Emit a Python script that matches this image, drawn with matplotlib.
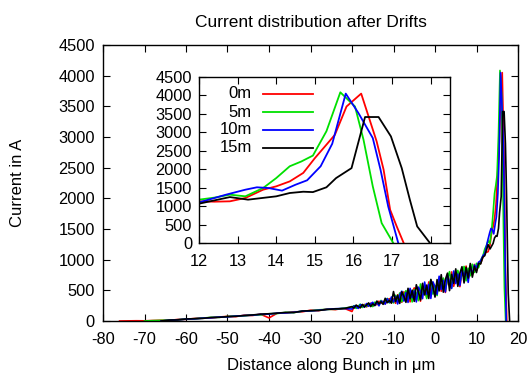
import numpy as np
import matplotlib
matplotlib.use("Agg")
import matplotlib.pyplot as plt
from matplotlib.lines import Line2D

plt.rcParams['font.family'] = ['Liberation Sans', 'DejaVu Sans']
plt.rcParams['axes.unicode_minus'] = False

labels = ["0m", "5m", "10m", "15m"]
colors = ["#ff0000", "#00e000", "#0000ff", "#000000"]

# far tail (step 2 um)
x_far = [-76, -74, -72, -70, -68, -66, -64, -62, -60, -58, -56, -54, -52, -50,
         -48, -46, -44, -42, -40, -38, -36, -34, -32, -30, -28, -26, -24, -22]
nan = np.nan
far_0m = [0, 2, 4, 3, 8, 12, 10, 25, 28, 40, 50, 48, 65, 75, 72, 92, 90, 110, 50, 128,
          130, 150, 150, 175, 170, 195, 185, 210]
far_5m = [nan, nan, nan, 0, 6, 10, 14, 20, 32, 36, 48, 58, 60, 72, 82, 84, 98, 100, 118, 122,
          140, 138, 160, 165, 182, 190, 192, 210]
far_10m = [nan, nan, nan, nan, nan, 0, 12, 20, 30, 35, 46, 52, 64, 68, 80, 88, 95, 108, 112, 128,
           132, 142, 160, 165, 175, 190, 200, 205]
far_15m = [nan, nan, nan, nan, nan, 0, 15, 18, 32, 38, 42, 58, 60, 72, 76, 90, 98, 112, 118, 128,
           140, 138, 162, 168, 172, 188, 198, 200]

# noisy middle section (step 0.5 um, -20 .. 11.5)
x_mid = list(np.arange(-20, 12, 0.5))
mid_0m = [155, 235, 220, 250, 220, 250, 270, 230, 260, 290,
          240, 282, 265, 323, 290, 322, 280, 333, 365, 297,
          360, 289, 428, 377, 306, 475, 354, 463, 312, 461,
          540, 351, 512, 323, 554, 505, 386, 637, 458, 599,
          410, 595, 680, 485, 650, 465, 720, 605, 800, 565,
          720, 805, 560, 805, 710, 895, 690, 848, 745, 922,
          820, 920, 940, 1030]
mid_5m = [225, 250, 205, 240, 275, 220, 260, 240, 280, 265,
          235, 307, 290, 263, 335, 282, 325, 368, 295, 352,
          295, 419, 338, 457, 316, 425, 494, 333, 472, 311,
          510, 451, 332, 603, 424, 575, 366, 567, 668, 439,
          580, 415, 700, 565, 700, 505, 690, 805, 540, 745,
          640, 825, 630, 775, 890, 655, 860, 738, 925, 792,
          940, 870, 990, 1050]
mid_10m = [195, 245, 235, 205, 265, 255, 225, 285, 240, 280,
           305, 252, 305, 248, 325, 312, 275, 363, 305, 392,
           310, 399, 278, 427, 486, 325, 464, 303, 532, 381,
           490, 311, 552, 483, 364, 635, 436, 597, 368, 639,
           560, 435, 730, 515, 660, 475, 750, 635, 530, 815,
           610, 765, 580, 855, 720, 855, 630, 898, 765, 912,
           870, 960, 980, 1060]
mid_15m = [235, 210, 260, 235, 215, 270, 230, 260, 295, 235,
           280, 252, 325, 278, 315, 272, 370, 298, 335, 292,
           480, 319, 418, 287, 476, 405, 304, 533, 362, 501,
           320, 591, 472, 343, 614, 425, 586, 367, 678, 559,
           390, 675, 490, 755, 470, 675, 780, 495, 760, 615,
           850, 565, 780, 885, 620, 875, 700, 938, 715, 892,
           790, 940, 930, 1040]

# peak region (as in inset)
pk_x_0m = [12, 12.4, 12.8, 13.2, 13.66, 14.0, 14.35, 14.7, 15.0, 15.3, 15.52, 15.82, 16.2,
           16.6, 16.78, 16.95, 17.12, 17.3]
pk_y_0m = [1130, 1120, 1130, 1220, 1445, 1536, 1670, 1900, 2300, 2665, 2935, 3700, 4050,
           2755, 1990, 900, 450, 0]
pk_x_5m = [12, 12.4, 12.8, 13.2, 13.66, 14.0, 14.35, 14.65, 14.95, 15.3, 15.66, 16.04, 16.26,
           16.5, 16.73, 17.03]
pk_y_5m = [1175, 1230, 1310, 1265, 1490, 1760, 2080, 2210, 2370, 3030, 4085, 3700, 2800,
           1536, 540, 0]
pk_x_10m = [12, 12.7, 13.2, 13.5, 13.8, 14.15, 14.5, 14.8, 15.15, 15.45, 15.8, 16.13, 16.5,
            16.7, 16.9, 17.16]
pk_y_10m = [1100, 1310, 1445, 1510, 1490, 1420, 1580, 1700, 2080, 2690, 4050, 3520, 2845,
            1990, 990, 0]
pk_x_15m = [12, 12.8, 13.27, 14.0, 14.35, 14.7, 14.95, 15.3, 15.55, 15.95, 16.3, 16.65, 16.97,
            17.25, 17.46, 17.65, 17.98]
pk_y_15m = [1066, 1245, 1175, 1265, 1355, 1390, 1380, 1510, 1760, 2030, 3415, 3415, 2890,
            2030, 1175, 450, 0]

series = [
    (far_0m, mid_0m, pk_x_0m, pk_y_0m),
    (far_5m, mid_5m, pk_x_5m, pk_y_5m),
    (far_10m, mid_10m, pk_x_10m, pk_y_10m),
    (far_15m, mid_15m, pk_x_15m, pk_y_15m),
]

fig = plt.figure(figsize=(5.3, 3.74), dpi=100)
ax = fig.add_axes([103/530, 1-321/374, (518-103)/530, (321-45)/374])
axin = fig.add_axes([199/530, 1-243/374, (450-199)/530, (243-77)/374])

for (far, mid, px, py), c in zip(series, colors):
    xs = list(x_far) + list(x_mid) + list(px)
    ys = list(far) + list(mid) + list(py)
    ax.plot(xs, ys, color=c, lw=1.2)
    axin.plot(px, py, color=c, lw=1.3)

fs = 11.8
ax.set_xlim(-80, 20)
ax.set_ylim(0, 4500)
ax.set_xticks(np.arange(-80, 21, 10))
ax.set_yticks(np.arange(0, 4501, 500))
ax.tick_params(axis='both', direction='in', top=True, right=True, length=5, width=0.8,
               labelsize=fs)
ax.tick_params(axis='x', pad=8)
ax.tick_params(axis='y', pad=6)
ax.set_title("Current distribution after Drifts", fontsize=12.5, pad=13)
ax.set_xlabel("Distance along Bunch in \u03bcm", fontsize=12)
ax.xaxis.set_label_coords(0.549, -0.135)
ax.set_ylabel("Current in A", fontsize=12)
ax.yaxis.set_label_coords(-0.187, 0.5)
for s in ax.spines.values():
    s.set_linewidth(1.0)

axin.set_xlim(12, 18.5)
axin.set_ylim(0, 4500)
axin.set_xticks(np.arange(12, 19, 1))
axin.set_yticks(np.arange(0, 4501, 500))
axin.tick_params(axis='both', direction='in', top=True, right=True, length=5, width=0.8,
                 labelsize=fs)
axin.tick_params(axis='x', pad=8)
axin.tick_params(axis='y', pad=5)
for s in axin.spines.values():
    s.set_linewidth(1.0)

# legend (right-aligned labels, sample line to the right)
leg_rows = [0.898, 0.789, 0.681, 0.574]
for lab, c, yy in zip(labels, colors, leg_rows):
    axin.text(0.21, yy, lab, transform=axin.transAxes, ha='right', va='center',
              fontsize=12)
    axin.add_line(Line2D([0.255, 0.454], [yy, yy], transform=axin.transAxes,
                         color=c, lw=1.3))

fig.savefig("out.png", dpi=100)
